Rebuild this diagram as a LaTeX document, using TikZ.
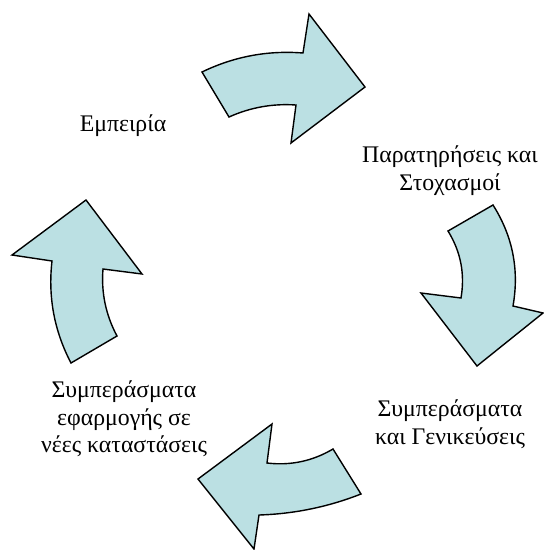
\documentclass[tikz,border=0pt]{standalone}
\usepackage{fontspec}
\setmainfont{Liberation Serif}
\definecolor{arrowfill}{RGB}{187,224,227}
\begin{document}
\begin{tikzpicture}[x=1pt,y=-1pt,
  blockarrow/.style={fill=arrowfill, draw=black, line width=1.4pt, line join=miter},
  lbl/.style={font=\fontsize{23.8}{28}\selectfont, inner sep=0pt, anchor=base}]
\useasboundingbox (0,0) rectangle (544,550);
% top arrow
\path[blockarrow] (202,72) .. controls (234,56.5) and (267.7,50.2) .. (303,53) -- (309,14) -- (365,87)
  -- (291,143) -- (296,105) .. controls (272.7,103.4) and (250.3,107.4) .. (229,117) -- cycle;
% right arrow
\path[blockarrow] (448,231) -- (493,205) .. controls (512.7,236.1) and (519.4,269.8) .. (513,306)
  -- (543,313) -- (477,366) -- (421,293) -- (461,298) .. controls (465.1,274) and (460.8,251.7) .. (448,231) -- cycle;
% bottom arrow
\path[blockarrow] (272,424) -- (267,463) .. controls (290.6,465.8) and (312.6,461.1) .. (333,449)
  -- (361,494) .. controls (328.2,506.9) and (294.2,513.9) .. (259,515) -- (254,549) -- (198,479) -- cycle;
% left arrow
\path[blockarrow] (86,200) -- (12,255) -- (52,261) .. controls (47.9,296.9) and (54.2,330.9) .. (71,363)
  -- (117,336) .. controls (105.8,315) and (101.1,292.7) .. (103,269) -- (142,274) -- cycle;
% labels
\node[lbl] (emp) at (123,131) {Εμπειρία};
\node[lbl] (par1) at (450,162) {Παρατηρήσεις και};
\node[lbl] (par2) at (450,190) {Στοχασμοί};
\node[lbl] (gen1) at (450,416) {Συμπεράσματα};
\node[lbl] (gen2) at (450,444) {και Γενικεύσεις};
\node[lbl] (efa1) at (124,397) {Συμπεράσματα};
\node[lbl] (efa2) at (124,425) {εφαρμογής σε};
\node[lbl] (efa3) at (124,452) {νέες καταστάσεις};
\end{tikzpicture}
\end{document}
